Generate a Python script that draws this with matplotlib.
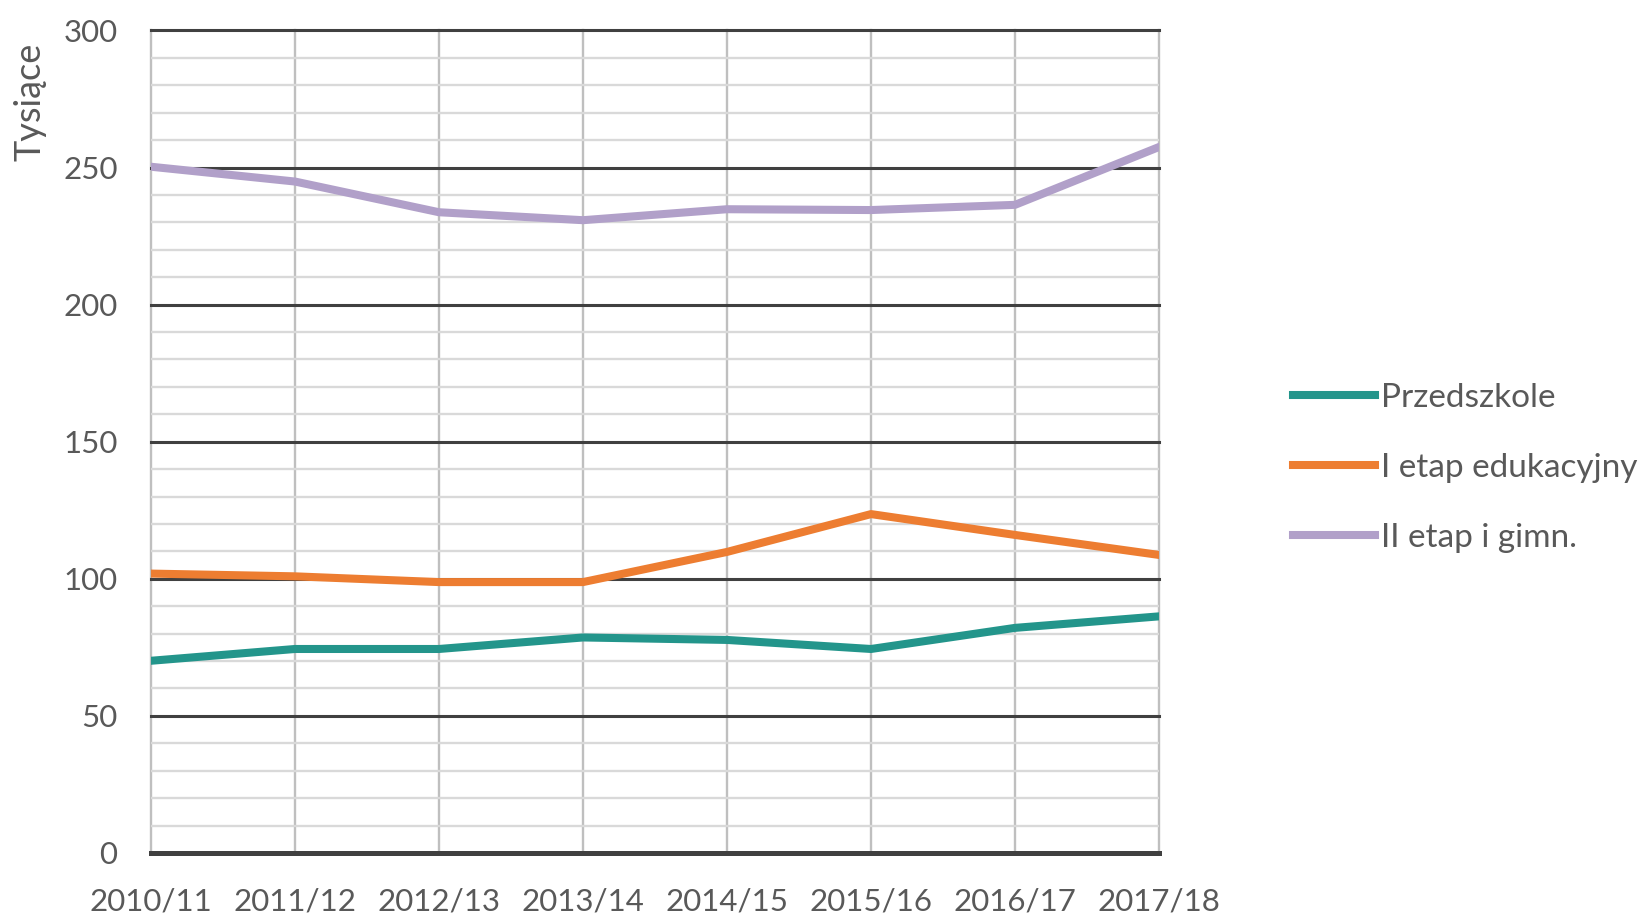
import numpy as np
import matplotlib.pyplot as plt
from matplotlib.ticker import MultipleLocator

# lata szkolne i liczba uczniów (tys.)
lata = ["2010/11", "2011/12", "2012/13", "2013/14", "2014/15", "2015/16", "2016/17", "2017/18"]
przedszkole = [70.1, 74.4, 74.4, 78.6, 77.7, 74.4, 82.1, 86.3]
etap_1 = [101.9, 100.9, 98.8, 98.8, 109.8, 123.6, 116.0, 108.7]
etap_2_gimn = [250.3, 244.9, 233.7, 230.8, 234.8, 234.5, 236.4, 257.5]

serie = [
    ("Przedszkole", przedszkole, "#23958B"),
    ("I etap edukacyjny", etap_1, "#ED7D31"),
    ("II etap i gimn.", etap_2_gimn, "#B1A0C9"),
]

plt.rcParams['font.family'] = ['Lato', 'DejaVu Sans']
tekst = "#595959"

fig = plt.figure(figsize=(16.48, 9.15), dpi=100)
ax = fig.add_axes([0.0916, 0.0678, 0.6117, 0.8989])

x = np.arange(len(lata))
for nazwa, wartosci, kolor in serie:
    ax.plot(x, wartosci, color=kolor, lw=5.8, label=nazwa,
            solid_joinstyle='round', zorder=3)

ax.set_xlim(0, len(lata) - 1)
ax.set_ylim(0, 300)
ax.set_xticks(x)
ax.set_xticklabels(lata)
ax.yaxis.set_major_locator(MultipleLocator(50))
ax.yaxis.set_minor_locator(MultipleLocator(10))

# siatka: jasne linie co 10, ciemne co 50, pionowe przy każdym roku
ax.set_axisbelow(True)
ax.grid(axis='y', which='minor', color='#D9D9D9', lw=1.7)
ax.grid(axis='y', which='major', color='#404040', lw=2.2)
ax.grid(axis='x', which='major', color='#BFBFBF', lw=1.7)
for ln in ax.get_xgridlines() + ax.get_ygridlines():
    ln.set_clip_on(False)

for s in ['top', 'right', 'left']:
    ax.spines[s].set_visible(False)
ax.spines['bottom'].set_color('#404040')
ax.spines['bottom'].set_linewidth(3.6)
ax.spines['bottom'].set_zorder(4)

ax.tick_params(axis='both', which='both', length=0, labelsize=22.5, labelcolor=tekst)
ax.tick_params(axis='y', pad=24)
ax.tick_params(axis='x', pad=25)

fig.text(0.018, 0.889, "Tysiące", rotation=90, ha='center', va='center',
         fontsize=26, color=tekst)

leg = ax.legend(loc='center left', bbox_to_anchor=(0.7846, 0.4885),
                bbox_transform=fig.transFigure, frameon=False,
                fontsize=24, handlelength=2.47, handletextpad=0.18,
                labelspacing=1.2, borderpad=0, borderaxespad=0)
for t in leg.get_texts():
    t.set_color(tekst)

fig.savefig("out.png", dpi=100)
